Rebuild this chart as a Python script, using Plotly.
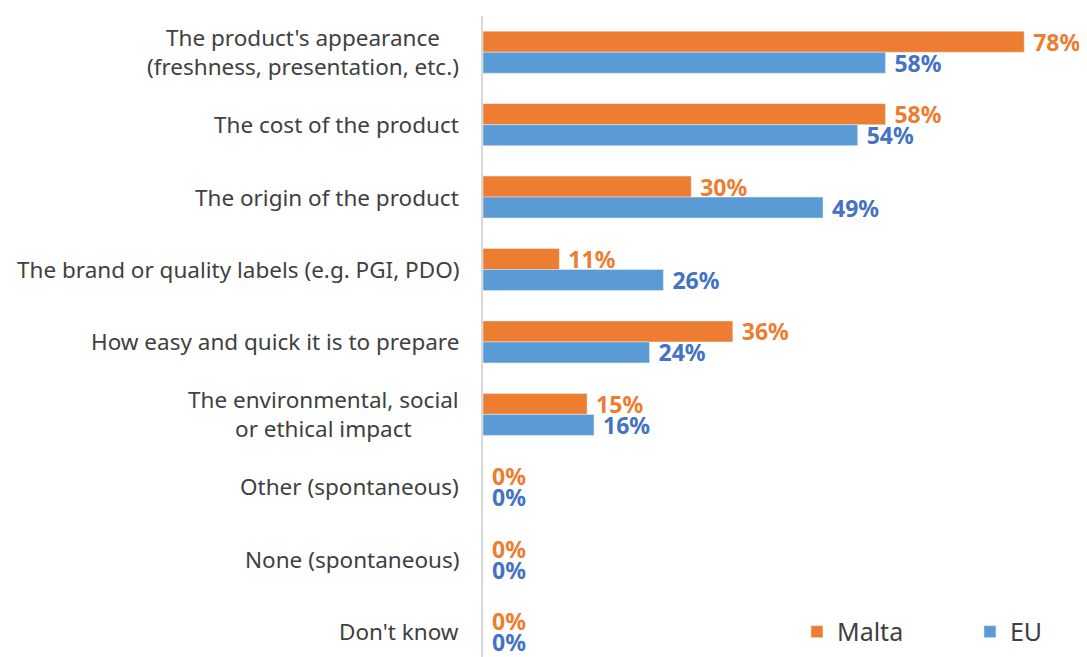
import plotly.graph_objects as go

categories = [
    "The product's appearance<br>(freshness, presentation, etc.)",
    "The cost of the product",
    "The origin of the product",
    "The brand or quality labels (e.g. PGI, PDO)",
    "How easy and quick it is to prepare",
    "The environmental, social<br>or ethical impact",
    "Other (spontaneous)",
    "None (spontaneous)",
    "Don't know",
]
malta = [78, 58, 30, 11, 36, 15, 0, 0, 0]
eu = [58, 54, 49, 26, 24, 16, 0, 0, 0]

FONT = "Noto Sans, Open Sans, DejaVu Sans"
ORANGE = "#ED7D31"
BLUE = "#5B9BD5"
BLUE_TXT = "#4472C4"
GREY = "#404040"

fig = go.Figure()
fig.add_trace(go.Bar(
    name="Malta", y=categories, x=malta, orientation="h",
    marker_color=ORANGE, texttemplate="\u00a0%{x}%", textposition="outside",
    textfont=dict(family=FONT, size=23, color=ORANGE, weight="bold"),
    cliponaxis=False, constraintext="none",
))
fig.add_trace(go.Bar(
    name="EU", y=categories, x=eu, orientation="h",
    marker_color=BLUE, texttemplate="\u00a0%{x}%", textposition="outside",
    textfont=dict(family=FONT, size=23, color=BLUE_TXT, weight="bold"),
    cliponaxis=False, constraintext="none",
))

for c in categories:
    fig.add_annotation(
        x=0, xref="paper", y=c, yref="y", text=c, showarrow=False,
        xanchor="right", xshift=-22, align="center",
        font=dict(family=FONT, size=22.5, color=GREY),
    )

fig.update_layout(
    width=1087, height=657,
    margin=dict(l=475, r=0, t=8, b=0, autoexpand=False),
    plot_bgcolor="white", paper_bgcolor="white",
    barmode="group", bargap=0.42, bargroupgap=0.0,
    font=dict(family=FONT, color=GREY),
    legend=dict(
        orientation="h", x=0.513, xanchor="left", y=0.051, yanchor="middle",
        font=dict(family=FONT, size=25, color=GREY),
        entrywidth=128, itemwidth=30, bgcolor="rgba(0,0,0,0)",
    ),
    xaxis=dict(range=[0, 88.2], visible=False, showgrid=False, zeroline=False),
    yaxis=dict(
        autorange=False, range=[8.46, -0.5], showticklabels=False,
        showline=True, linecolor="#D9D9D9", linewidth=2, ticks="",
        showgrid=False, zeroline=False,
    ),
)

fig.write_html("out.html")
